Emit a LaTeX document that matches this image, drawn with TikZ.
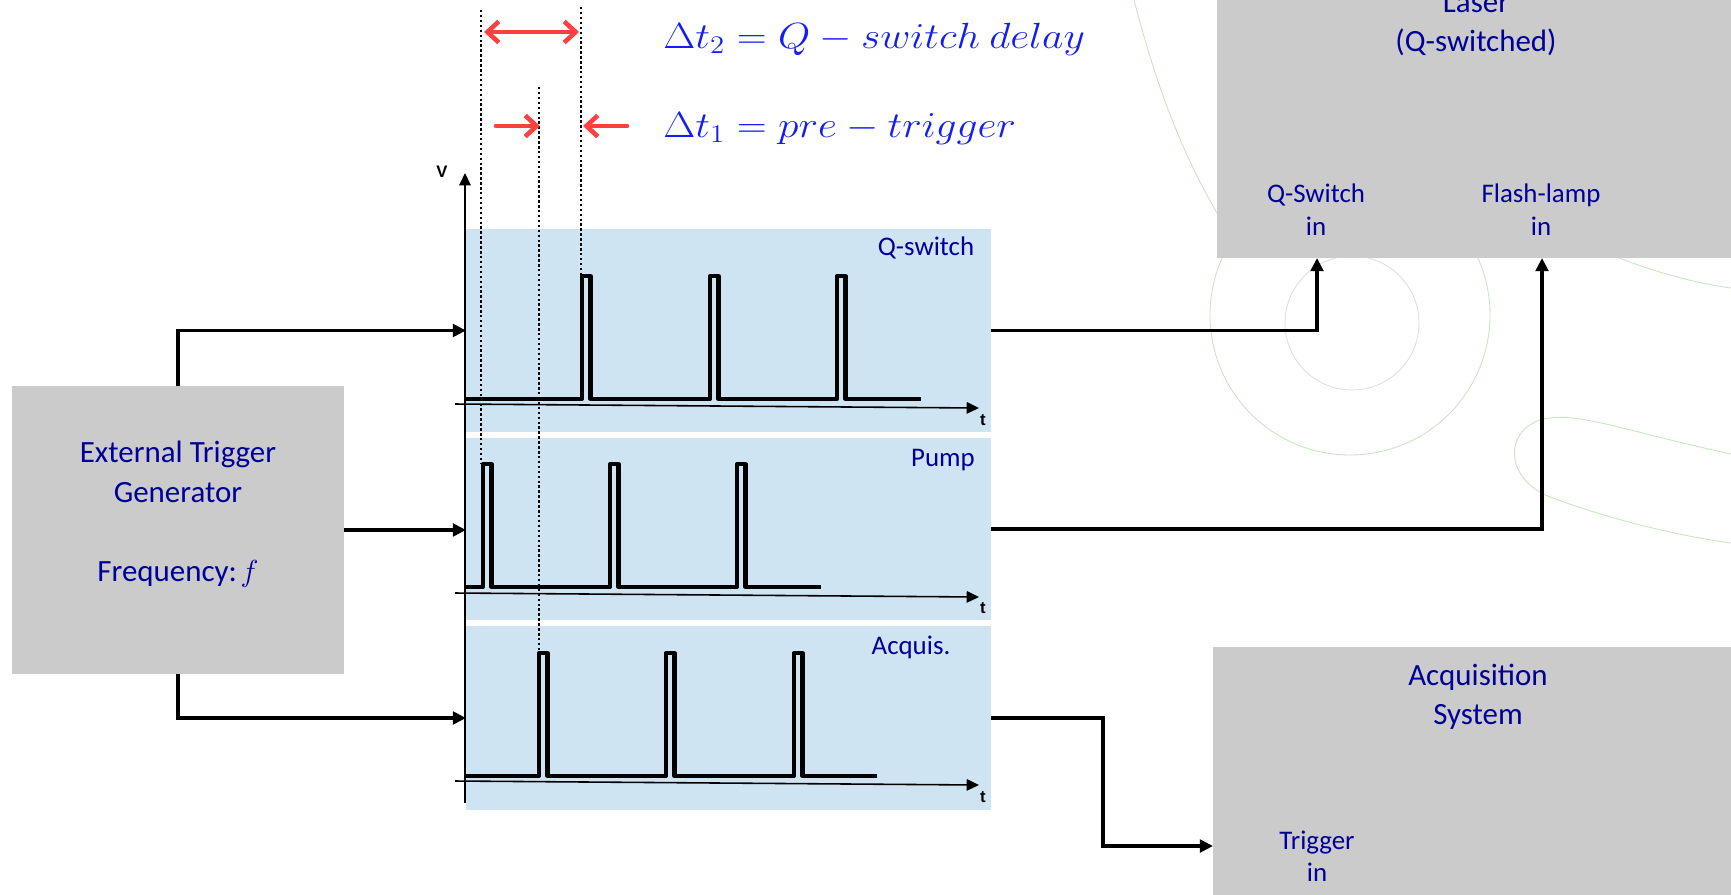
\documentclass[tikz,border=0pt]{standalone}
\usepackage{fontspec}
\setmainfont{Carlito}
\newfontfamily\axisfont{Liberation Sans}
\usetikzlibrary{arrows.meta}
\definecolor{boxgray}{RGB}{203,203,203}
\definecolor{panelblue}{RGB}{207,228,242}
\definecolor{navy}{RGB}{0,0,153}
\definecolor{eqblue}{RGB}{20,30,240}
\definecolor{arrred}{RGB}{255,64,64}
\definecolor{wmgreen}{RGB}{202,227,196}
\definecolor{wmgray}{RGB}{222,222,222}
\begin{document}
\begin{tikzpicture}[x=0.02cm,y=-0.02cm,
  graybox/.style={fill=boxgray, draw=none, inner sep=0pt, outer sep=0pt, anchor=north west},
  panel/.style={fill=panelblue, draw=none, inner sep=0pt, outer sep=0pt, anchor=north west},
  big/.style={font=\fontsize{17.6}{22}\selectfont, text=navy, text height=11.3pt, text depth=0pt, inner sep=0pt},
  small/.style={font=\fontsize{15.3}{19}\selectfont, text=navy, text height=9.9pt, text depth=0pt, inner sep=0pt},
  axlbl/.style={font=\axisfont\bfseries\fontsize{9.5}{11}\selectfont, inner sep=0pt},
  eq/.style={font=\fontsize{20.74}{25}\selectfont, text=eqblue, text height=14.2pt, text depth=0pt, inner sep=0pt, anchor=west},
  conn/.style={line width=1.9pt, -{Triangle[length=7.5pt,width=7.2pt]}},
  sig/.style={line width=2.3pt, line join=round},
  axisline/.style={line width=0.9pt, -{Triangle[length=7pt,width=6.5pt]}},
  dotl/.style={line width=0.7pt, dash pattern=on 1.4pt off 1.4pt},
  redarr/.style={draw=arrred, line width=2.6pt, line cap=round, line join=round},
  wm/.style={draw=wmgreen, line width=0.5pt}
]
\useasboundingbox (0,0) rectangle (1731,894);
\clip (0,0) rectangle (1731,894);

% faint background watermark curves
\draw[wm] (1134,0) .. controls (1160,100) and (1190,175) .. (1240,250);
\draw[wm] (1350,315) circle [radius=140];
\draw[draw=wmgray, line width=0.5pt] (1352,323) circle [radius=67];
\draw[wm] (1731,454) .. controls (1620,430) and (1575,410) .. (1540,420)
  .. controls (1505,432) and (1505,475) .. (1545,495)
  .. controls (1610,520) and (1680,536) .. (1731,543);
\draw[wm] (1600,250) .. controls (1650,272) and (1700,284) .. (1731,288);

% boxes
\node[graybox, minimum width=6.64cm, minimum height=5.76cm] (etg) at (12,386) {};
\node[graybox, minimum width=10.46cm, minimum height=6.56cm] (laser) at (1217,-70) {};
\node[graybox, minimum width=10.6cm, minimum height=5.2cm] (acq) at (1213,647) {};

% chart panels
\node[panel, minimum width=10.5cm, minimum height=4.06cm] (qpanel) at (466,229) {};
\node[panel, minimum width=10.5cm, minimum height=3.64cm] (ppanel) at (466,438) {};
\node[panel, minimum width=10.5cm, minimum height=3.68cm] (apanel) at (466,626) {};

% box texts
\node[big] (ext1) at (178,453) {External Trigger};
\node[big] (ext2) at (178,493) {Generator};
\node[big] (ext3) at (178,572) {Frequency:\hspace{0.12em}$f$};
\node[big] (las1) at (1476,3) {Laser};
\node[big] (las2) at (1476,42) {(Q-switched)};
\node[small] (qs1) at (1316,194) {Q-Switch};
\node[small] (qs2) at (1316,227) {in};
\node[small] (fl1) at (1541,194) {Flash-lamp};
\node[small] (fl2) at (1541,227) {in};
\node[big] (acq1) at (1478,676) {Acquisition};
\node[big] (acq2) at (1478,715) {System};
\node[small] (tr1) at (1317,841) {Trigger};
\node[small] (tr2) at (1317,873) {in};

% panel labels
\node[small] (lq) at (926,247) {Q-switch};
\node[small] (lp) at (943,458) {Pump};
\node[small] (la) at (911,646) {Acquis.};

% axes
\coordinate (vbot) at (465,803);
\coordinate (vtop) at (465,173);
\draw[axisline] (vbot) -- (vtop);
\node[axlbl] (vlbl) at (442,172) {V};
\coordinate (tq0) at (455,404); \coordinate (tq1) at (979,408);
\coordinate (tp0) at (455,593); \coordinate (tp1) at (979,597);
\coordinate (ta0) at (455,781); \coordinate (ta1) at (979,785);
\draw[axisline] (tq0) -- (tq1);
\draw[axisline] (tp0) -- (tp1);
\draw[axisline] (ta0) -- (ta1);
\node[axlbl] (tlq) at (983,420) {t};
\node[axlbl] (tlp) at (983,608) {t};
\node[axlbl] (tla) at (983,797) {t};

% signals
\draw[sig] (464,399) -- (582,399) -- (582,276) -- (590.5,276) -- (590.5,399)
  -- (710,399) -- (710,276) -- (718.5,276) -- (718.5,399)
  -- (837,399) -- (837,276) -- (845.5,276) -- (845.5,399) -- (921,399);
\draw[sig] (464,587) -- (483,587) -- (483,464) -- (491.5,464) -- (491.5,587)
  -- (610,587) -- (610,464) -- (618.5,464) -- (618.5,587)
  -- (737,587) -- (737,464) -- (745.5,464) -- (745.5,587) -- (821,587);
\draw[sig] (464,776) -- (539,776) -- (539,653) -- (547.5,653) -- (547.5,776)
  -- (666,776) -- (666,653) -- (674.5,653) -- (674.5,776)
  -- (794,776) -- (794,653) -- (802.5,653) -- (802.5,776) -- (877,776);

% dotted guide lines
\draw[dotl] (481,10) -- (481,464);
\draw[dotl] (539,87) -- (539,653);
\draw[dotl] (581,7) -- (581,276);

% red delay arrows
\coordinate (d2a) at (484,32); \coordinate (d2b) at (579,32);
\coordinate (d1a) at (496,126); \coordinate (d1b) at (540,126);
\coordinate (d1c) at (627,126); \coordinate (d1d) at (583,126);
\draw[redarr, {Straight Barb[length=6.5pt,width=12pt]}-{Straight Barb[length=6.5pt,width=12pt]}] (d2a) -- (d2b);
\draw[redarr, -{Straight Barb[length=6.5pt,width=12pt]}] (d1a) -- (d1b);
\draw[redarr, -{Straight Barb[length=6.5pt,width=12pt]}] (d1c) -- (d1d);

% equations
\node[eq] (eq2) at (663,36) {\scalebox{1.14}[1]{$\Delta t_2 = Q - switch\ delay$}};
\node[eq] (eq1) at (663,125) {\scalebox{1.14}[1]{$\Delta t_1 = pre - trigger$}};

% connectors
\coordinate (qin) at (1317,258);
\coordinate (fin) at (1542,258);
\coordinate (tin) at (1213,846);
\draw[conn] (etg.north) |- (qpanel.west);
\draw[conn] (etg.east) -- (etg.east -| ppanel.west);
\draw[conn] (etg.south) |- (apanel.west);
\draw[conn] (qpanel.east) -| (qin);
\draw[conn] (ppanel.east) -| (fin);
\draw[conn] (apanel.east) -- ++(112,0) |- (tin);
\end{tikzpicture}
\end{document}
